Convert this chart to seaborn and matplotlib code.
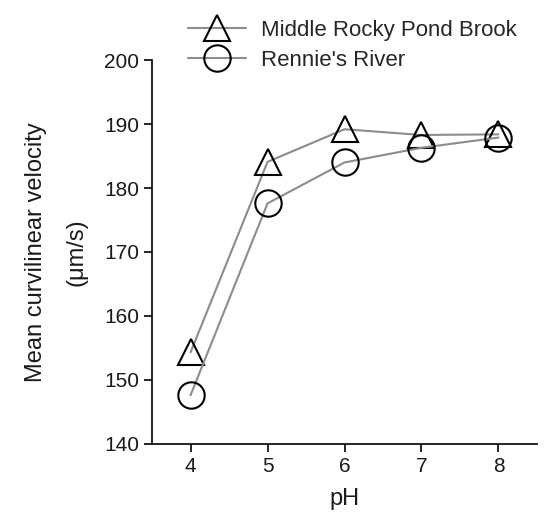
import matplotlib
matplotlib.use("Agg")
import matplotlib.pyplot as plt
import seaborn as sns
import pandas as pd

ph = [4, 5, 6, 7, 8]
mrpb = [154.3, 184.1, 189.2, 188.3, 188.4]
rennie = [147.6, 177.6, 184.0, 186.3, 187.9]
series_names = ["Middle Rocky Pond Brook", "Rennie's River"]
yticks = [140, 150, 160, 170, 180, 190, 200]

sns.set_style("ticks")
plt.rcParams['font.family'] = ['Liberation Sans', 'DejaVu Sans']

fig = plt.figure(figsize=(5.53, 5.19), dpi=100)
ax = fig.add_axes([0.275, 0.145, 0.696, 0.739])

df = pd.DataFrame({
    "pH": ph * 2,
    "v": mrpb + rennie,
    "site": [series_names[0]] * len(ph) + [series_names[1]] * len(ph),
})

markers = {series_names[0]: "^", series_names[1]: "o"}
for name in series_names:
    sub = df[df["site"] == name]
    sns.lineplot(data=sub, x="pH", y="v", ax=ax, color="#8c8c8c", lw=1.5,
                 marker=markers[name], markersize=19, markerfacecolor="none",
                 markeredgecolor="black", markeredgewidth=1.5, label=name,
                 legend=False)

ax.set_xlim(3.5, 8.5)
ax.set_ylim(140, 200)
ax.set_xticks(ph)
ax.set_yticks(yticks)
ax.tick_params(axis="both", labelsize=15, length=6, width=1.2, color="black",
               labelcolor="#1a1a1a", direction="out")
for s in ["top", "right"]:
    ax.spines[s].set_visible(False)
for s in ["left", "bottom"]:
    ax.spines[s].set_linewidth(1.2)
    ax.spines[s].set_color("black")

ax.set_xlabel("pH", fontsize=17, color="#1a1a1a", labelpad=9)
ax.set_ylabel("Mean curvilinear velocity\n(\u03bcm/s)", fontsize=17,
              color="#1a1a1a", labelpad=12, linespacing=2.1)

handles, labels = ax.get_legend_handles_labels()
fig.legend(handles, labels, loc="upper left", bbox_to_anchor=(0.304, 1.0),
           frameon=False, fontsize=16, handlelength=2.6, handletextpad=0.7,
           labelspacing=0.4, markerscale=1.0)

fig.savefig("out.png", dpi=100)
